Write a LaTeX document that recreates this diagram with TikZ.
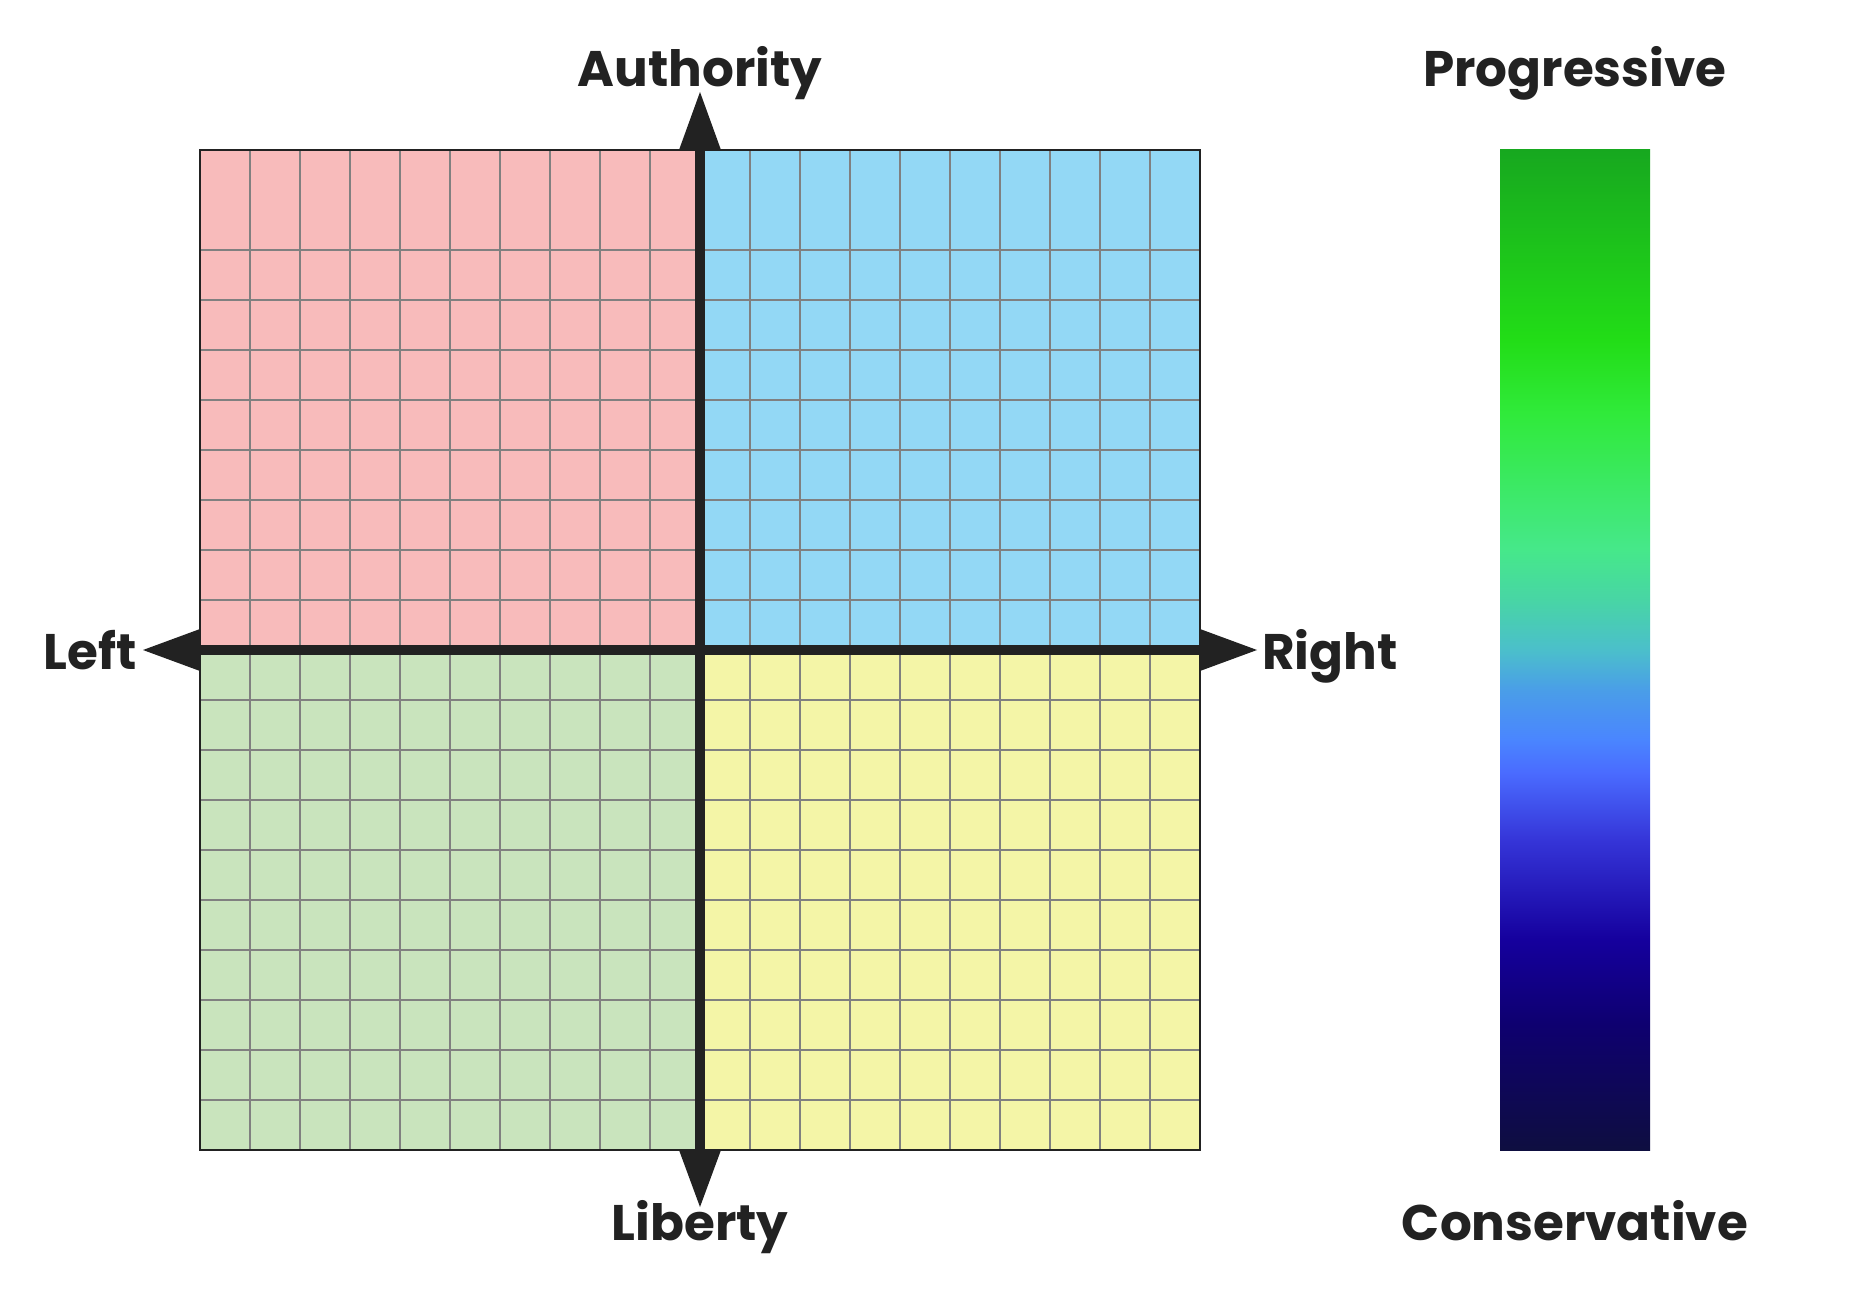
\documentclass[tikz,border=0pt]{standalone}
\usepackage{fontspec}
\newfontfamily\lblfont{Poppins}
\definecolor{ink}{HTML}{222222}
\definecolor{qpink}{HTML}{F8BBBB}
\definecolor{qblue}{HTML}{93D8F5}
\definecolor{qgreen}{HTML}{C9E4BD}
\definecolor{qyellow}{HTML}{F4F5A7}
\definecolor{gline}{HTML}{808080}
\definecolor{g0}{HTML}{0E0E40}
\definecolor{g1}{HTML}{0E0070}
\definecolor{g2}{HTML}{15009D}
\definecolor{g3}{HTML}{3535D8}
\definecolor{g4}{HTML}{4A6BFF}
\definecolor{g5}{HTML}{4A85FF}
\definecolor{g6}{HTML}{4A9EE8}
\definecolor{g7}{HTML}{4BBFCB}
\definecolor{g8}{HTML}{48D5A5}
\definecolor{g9}{HTML}{46E88A}
\definecolor{g10}{HTML}{30EA3A}
\definecolor{g11}{HTML}{22DD17}
\definecolor{g12}{HTML}{17A81F}
\pgfdeclareverticalshading{polbar}{100bp}{%
color(0bp)=(g0); color(25bp)=(g0); color(31.35bp)=(g1); color(35.5bp)=(g2);
color(40.5bp)=(g3); color(43.85bp)=(g4); color(45.5bp)=(g5); color(48bp)=(g6);
color(50bp)=(g7); color(52.5bp)=(g8); color(55bp)=(g9); color(61.85bp)=(g10);
color(65.5bp)=(g11); color(75bp)=(g12); color(100bp)=(g12)}
\begin{document}
\begin{tikzpicture}[x=1pt,y=-1pt,
  axislabel/.style={text=ink,inner sep=0pt,font=\lblfont\bfseries\fontsize{50}{58}\selectfont},
  arrowhead/.style={fill=ink,draw=none},
  gridline/.style={draw=gline,line width=1.1pt}]
\useasboundingbox[fill=white] (0,0) rectangle (1850,1300);
% quadrants
\fill[qpink] (200,150) rectangle (700,650);
\fill[qblue] (700,150) rectangle (1200,650);
\fill[qgreen] (200,650) rectangle (700,1150);
\fill[qyellow] (700,650) rectangle (1200,1150);
% grid
\foreach \i in {250,300,...,1150} {
  \draw[gridline] (\i,150) -- (\i,1150);
  \draw[gridline] (200,\i) -- (1200,\i);
}
\draw[ink,line width=1.6pt] (200,150) rectangle (1200,1150);
% axes
\coordinate (ctop) at (700,150);
\coordinate (cbot) at (700,1150);
\coordinate (cleft) at (200,650);
\coordinate (cright) at (1200,650);
\draw[ink,line width=10pt] (ctop) -- (cbot);
\draw[ink,line width=10pt] (cleft) -- (cright);
\fill[arrowhead] (700,92) -- (721,150) -- (679,150) -- cycle;
\fill[arrowhead] (700,1207) -- (721,1150) -- (679,1150) -- cycle;
\fill[arrowhead] (143,650) -- (200,629) -- (200,671) -- cycle;
\fill[arrowhead] (1257,650) -- (1200,629) -- (1200,671) -- cycle;
% labels
\node[axislabel,anchor=base] (auth) at (700,87) {Authority};
\node[axislabel,anchor=base] (lib) at (700,1240) {Liberty};
\node[axislabel,anchor=base east] (left) at (137,669) {Left};
\node[axislabel,anchor=base west] (right) at (1262,669) {Right};
% gradient bar
\shade[shading=polbar] (1500,150) rectangle (1650,1150);
\node[axislabel,anchor=base] (prog) at (1575,87) {Progressive};
\node[axislabel,anchor=base] (cons) at (1575,1240) {Conservative};
\end{tikzpicture}
\end{document}
